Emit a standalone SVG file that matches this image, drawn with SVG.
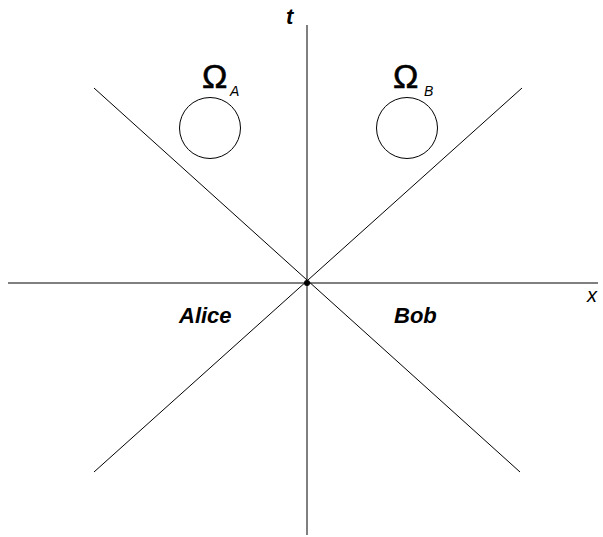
<svg xmlns="http://www.w3.org/2000/svg" width="603" height="537" viewBox="0 0 603 537">
<style>
.ln{stroke:#000;stroke-width:1;fill:none}
.c{stroke:#000;stroke-width:1;fill:none}
text{font-family:"Liberation Sans",Arial,sans-serif;fill:#000}
.lb{font-style:italic;font-weight:bold;font-size:22px}
.om{font-size:34px;stroke:#000;stroke-width:0.6}
.sub{font-size:14px;font-style:italic}
</style>
<rect width="603" height="537" fill="#fff"/>
<g id="connectors">
<line class="ln" x1="307" y1="25" x2="307" y2="535"/>
<line class="ln" x1="8" y1="283" x2="598" y2="283"/>
<line class="ln" x1="94" y1="88" x2="520" y2="472"/>
<line class="ln" x1="522" y1="88" x2="94" y2="472"/>
</g>
<g id="origin"><circle cx="307" cy="283" r="3" fill="#000"/></g>
<g id="omegaA">
<circle class="c" cx="210" cy="128" r="30.5"/>
<text class="om" x="202" y="88">Ω</text>
<text class="sub" x="230" y="96">A</text>
</g>
<g id="omegaB">
<circle class="c" cx="407" cy="128" r="30.5"/>
<text class="om" x="393" y="88">Ω</text>
<text class="sub" x="424" y="96">B</text>
</g>
<g id="labels">
<text class="lb" x="286" y="24" font-size="19">t</text>
<text class="lb" x="587" y="302" style="font-weight:normal;font-size:20px">x</text>
<text class="lb" x="179" y="323">Alice</text>
<text class="lb" x="394" y="323">Bob</text>
</g>
</svg>
